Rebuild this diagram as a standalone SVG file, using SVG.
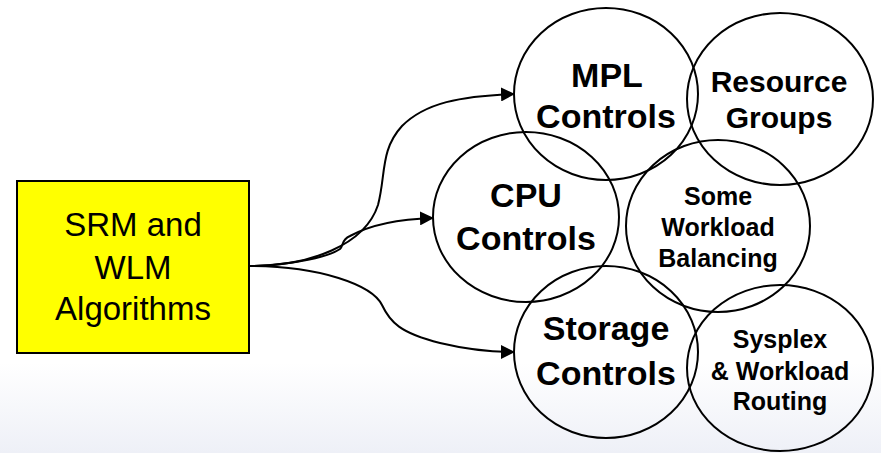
<svg xmlns="http://www.w3.org/2000/svg" width="881" height="453" viewBox="0 0 881 453">
<defs>
<linearGradient id="bg" x1="0" y1="0" x2="0" y2="1">
<stop offset="0" stop-color="#ffffff"/>
<stop offset="0.8" stop-color="#ffffff"/>
<stop offset="1" stop-color="#eef0f7"/>
</linearGradient>
<marker id="ah" viewBox="0 0 14 14" refX="13" refY="7" markerWidth="14" markerHeight="14" markerUnits="userSpaceOnUse" orient="auto">
<path d="M0,0 L14,7 L0,14 Z" fill="#000"/>
</marker>
</defs>
<style>
.c{fill:none;stroke:#000;stroke-width:2}
.e{fill:none;stroke:#000;stroke-width:2}
.t{font-family:"Liberation Sans",Arial,sans-serif;font-weight:bold;fill:#000;text-anchor:middle}
.big{font-size:34px}
.mid{font-size:30px}
.sm{font-size:25px}
</style>
<rect x="0" y="0" width="881" height="453" fill="url(#bg)"/>
<g id="connectors">
<path class="c" d="M250,266 C310,266 365,245 378,205 C386,175 380,150 402,126 C425,103 460,96 514,94" marker-end="url(#ah)"/>
<path class="c" d="M250,266 C295,265 330,256 340,249 C344,245 341,240 350,236 C372,224 400,219 433,218" marker-end="url(#ah)"/>
<path class="c" d="M250,266 C320,266 372,285 382,305 C390,322 400,333 440,343 C465,349 490,352 514,352" marker-end="url(#ah)"/>
</g>
<g id="srm">
<rect x="17" y="181" width="232" height="172" fill="#ffff00" stroke="#000" stroke-width="2"/>
<text x="133" y="236" font-family="Liberation Sans, Arial, sans-serif" font-size="33" text-anchor="middle">SRM and</text>
<text x="133" y="279" font-family="Liberation Sans, Arial, sans-serif" font-size="33" text-anchor="middle">WLM</text>
<text x="133" y="320" font-family="Liberation Sans, Arial, sans-serif" font-size="33" text-anchor="middle">Algorithms</text>
</g>
<g id="mpl">
<ellipse class="e" cx="606" cy="94" rx="92" ry="86"/>
<text class="t big" x="607" y="87">MPL</text>
<text class="t big" x="606" y="128">Controls</text>
</g>
<g id="resource">
<ellipse class="e" cx="780" cy="99" rx="93" ry="86"/>
<text class="t mid" x="779" y="92">Resource</text>
<text class="t mid" x="779" y="128">Groups</text>
</g>
<g id="cpu">
<ellipse class="e" cx="526" cy="217" rx="93" ry="85"/>
<text class="t big" x="526" y="207">CPU</text>
<text class="t big" x="526" y="250">Controls</text>
</g>
<g id="balancing">
<ellipse class="e" cx="718" cy="226" rx="92" ry="86"/>
<text class="t sm" x="718" y="205">Some</text>
<text class="t sm" x="718" y="236">Workload</text>
<text class="t sm" x="718" y="267">Balancing</text>
</g>
<g id="storage">
<ellipse class="e" cx="606" cy="352" rx="92" ry="86"/>
<text class="t big" x="606" y="340">Storage</text>
<text class="t big" x="606" y="385">Controls</text>
</g>
<g id="sysplex">
<ellipse class="e" cx="780" cy="368" rx="93" ry="83"/>
<text class="t sm" x="780" y="348">Sysplex</text>
<text class="t sm" x="780" y="380">&amp; Workload</text>
<text class="t sm" x="780" y="410">Routing</text>
</g>
</svg>
